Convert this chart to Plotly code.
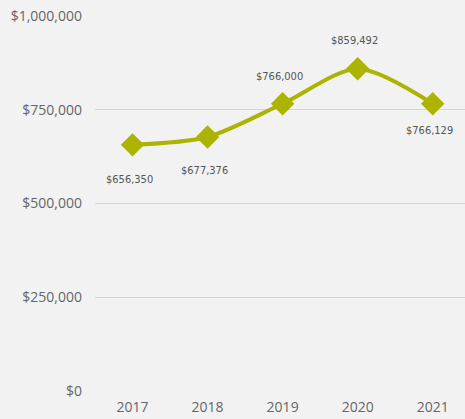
import plotly.graph_objects as go

years = ["2017", "2018", "2019", "2020", "2021"]
values = [656350, 677376, 766000, 859492, 766129]
labels = ["$656,350", "$677,376", "$766,000", "$859,492", "$766,129"]
tick_vals = [0, 250000, 500000, 750000, 1000000]
tick_text = ["$0", "$250,000", "$500,000", "$750,000", "$1,000,000"]

label_shift = [-35, -34, 27, 28, -27]
color = "#abb400"

fig = go.Figure()
fig.add_trace(go.Scatter(
    x=years, y=values, mode="lines+markers",
    line=dict(color=color, width=4, shape="spline", smoothing=0.8),
    marker=dict(symbol="diamond", size=18, color=color),
    hoverinfo="skip",
))
for i, (y, t, s) in enumerate(zip(values, labels, label_shift)):
    fig.add_annotation(x=i, y=y, xref="x", yref="y", text=t, showarrow=False,
                       yshift=s, xshift=-3,
                       font=dict(family="DejaVu Sans Condensed, Liberation Sans Narrow, sans-serif",
                                 size=11, color="#555555"))

fig.update_layout(
    width=465, height=419,
    margin=dict(l=95, r=0, t=16, b=28),
    paper_bgcolor="#f2f2f2", plot_bgcolor="#f2f2f2",
    showlegend=False,
    font=dict(family="Open Sans, sans-serif", size=14, color="#666666"),
    xaxis=dict(type="category", range=[-0.5, 4.43], showgrid=False, zeroline=False,
               showline=False, ticks="", tickfont=dict(size=14, color="#666666")),
    yaxis=dict(range=[0, 1000000], tickvals=tick_vals, ticktext=tick_text,
               showgrid=True, gridcolor="#d6d6d6", gridwidth=1, zeroline=False,
               ticks="", ticklen=0, tickfont=dict(size=14, color="#666666")),
)
fig.update_yaxes(ticklabelstandoff=12)
fig.update_xaxes(ticklabelstandoff=6)
fig.write_html("out.html", config={"displayModeBar": False},
               post_script="document.body.style.margin='0';document.body.style.background='#f2f2f2';")
